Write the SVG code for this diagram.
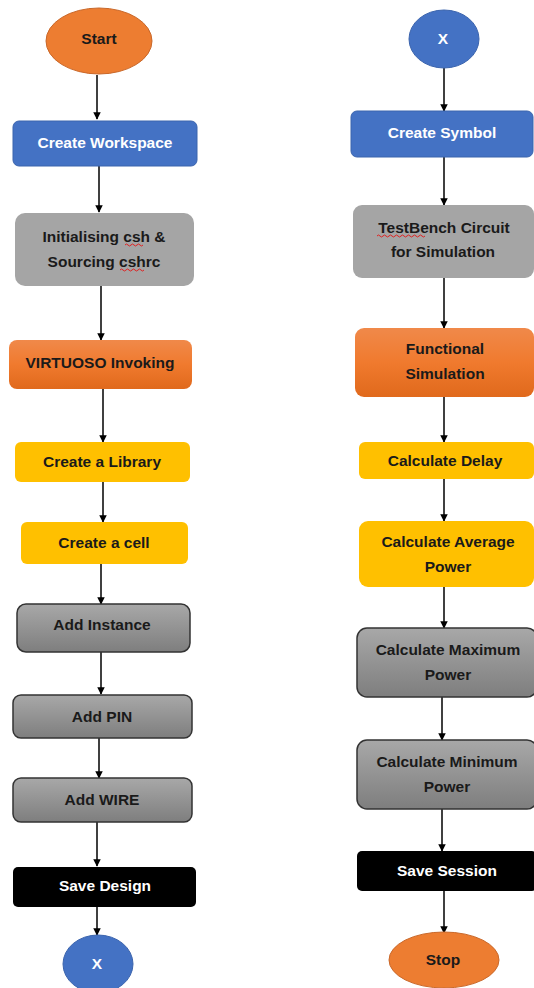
<svg xmlns="http://www.w3.org/2000/svg" width="534" height="988" viewBox="0 0 534 988">
<defs>
<linearGradient id="gOrange" x1="0" y1="0" x2="0" y2="1"><stop offset="0" stop-color="#F0894A"/><stop offset="0.5" stop-color="#F07A2E"/><stop offset="1" stop-color="#E0691C"/></linearGradient>
<linearGradient id="gGray" x1="0" y1="0" x2="0" y2="1"><stop offset="0" stop-color="#A8A8A8"/><stop offset="1" stop-color="#7E7E7E"/></linearGradient>
<marker id="arr" viewBox="0 0 10 10" refX="9" refY="5" markerWidth="5" markerHeight="5" orient="auto"><path d="M0,0 L10,5 L0,10 z" fill="#000"/></marker>
</defs>
<style>
text{font-family:"Liberation Sans",Arial,sans-serif;font-weight:bold;font-size:15.5px;text-anchor:middle;dominant-baseline:central}
.dk{fill:#1a1a1a}.wt{fill:#fff}
.blue{fill:#4472C4;stroke:#3B64AD;stroke-width:1}
.orangeE{fill:#ED7D31;stroke:#C9682A;stroke-width:1}
.grayL{fill:#A5A5A5}
.orangeG{fill:url(#gOrange)}
.yellow{fill:#FFC000}
.grayG{fill:url(#gGray);stroke:#333;stroke-width:1.5}
.black{fill:#000}
.edge{stroke:#000;stroke-width:1.5;fill:none;marker-end:url(#arr)}
.sq{stroke:#E02020;stroke-width:1;fill:none}
</style>
<rect width="534" height="988" fill="#fff"/>
<g id="connectors">
<path class="edge" d="M97,75 L97,119"/>
<path class="edge" d="M99,166 L99,212"/>
<path class="edge" d="M101,286 L101,340"/>
<path class="edge" d="M103,389 L103,442"/>
<path class="edge" d="M103,482 L103,522"/>
<path class="edge" d="M101,564 L101,604"/>
<path class="edge" d="M101,652 L101,694"/>
<path class="edge" d="M99,738 L99,778"/>
<path class="edge" d="M97,822 L97,866"/>
<path class="edge" d="M97,907 L97,935"/>
<path class="edge" d="M444,68 L444,111"/>
<path class="edge" d="M444,157 L444,205"/>
<path class="edge" d="M444,278 L444,328"/>
<path class="edge" d="M444,397 L444,442"/>
<path class="edge" d="M444,479 L444,521"/>
<path class="edge" d="M444,587 L444,628"/>
<path class="edge" d="M442,697 L442,740"/>
<path class="edge" d="M442,809 L442,851"/>
<path class="edge" d="M444,891 L444,933"/>
</g>
<g id="start"><ellipse class="orangeE" cx="99" cy="41" rx="53" ry="33"/><text class="dk" x="99" y="38">Start</text></g>
<g id="create-workspace"><rect class="blue" x="13" y="121" width="184" height="45" rx="6"/><text class="wt" x="105" y="142">Create Workspace</text></g>
<g id="initialising"><rect class="grayL" x="15" y="213" width="179" height="73" rx="10"/><text class="dk" x="104" y="236">Initialising csh &amp;</text><text class="dk" x="104" y="261">Sourcing cshrc</text>
<path class="sq" d="M125,245 q1.5,-2 3,0 t3,0 t3,0 t3,0 t3,0 t3,0"/><path class="sq" d="M120,270 q1.5,-2 3,0 t3,0 t3,0 t3,0 t3,0 t3,0 t3,0 t3,0"/></g>
<g id="virtuoso"><rect class="orangeG" x="9" y="340" width="183" height="49" rx="8"/><text class="dk" x="100" y="362">VIRTUOSO Invoking</text></g>
<g id="create-library"><rect class="yellow" x="15" y="442" width="175" height="40" rx="6"/><text class="dk" x="102" y="461">Create a Library</text></g>
<g id="create-cell"><rect class="yellow" x="21" y="522" width="167" height="42" rx="6"/><text class="dk" x="104" y="542">Create a cell</text></g>
<g id="add-instance"><rect class="grayG" x="17" y="604" width="173" height="48" rx="9"/><text class="dk" x="102" y="624">Add Instance</text></g>
<g id="add-pin"><rect class="grayG" x="13" y="695" width="179" height="43" rx="8"/><text class="dk" x="102" y="716">Add PIN</text></g>
<g id="add-wire"><rect class="grayG" x="13" y="778" width="179" height="44" rx="8"/><text class="dk" x="102" y="799">Add WIRE</text></g>
<g id="save-design"><rect class="black" x="13" y="867" width="183" height="40" rx="5"/><text class="wt" x="105" y="885">Save Design</text></g>
<g id="x-bottom"><ellipse class="blue" cx="98" cy="964" rx="35" ry="29"/><text class="wt" x="97" y="963">X</text></g>
<g id="x-top"><ellipse class="blue" cx="444" cy="39" rx="35" ry="29"/><text class="wt" x="443" y="38">X</text></g>
<g id="create-symbol"><rect class="blue" x="351" y="111" width="182" height="46" rx="6"/><text class="wt" x="442" y="132">Create Symbol</text></g>
<g id="testbench"><rect class="grayL" x="353" y="205" width="181" height="73" rx="9"/><text class="dk" x="444" y="227">TestBench Circuit</text><text class="dk" x="443" y="251">for Simulation</text>
<path class="sq" d="M377,236 q1.5,-2 3,0 t3,0 t3,0 t3,0 t3,0 t3,0 t3,0 t3,0 t3,0 t3,0 t3,0 t3,0 t3,0 t3,0 t3,0 t3,0"/></g>
<g id="functional-sim"><rect class="orangeG" x="355" y="328" width="179" height="69" rx="9"/><text class="dk" x="445" y="348">Functional</text><text class="dk" x="445" y="373">Simulation</text></g>
<g id="calc-delay"><rect class="yellow" x="359" y="442" width="175" height="37" rx="6"/><text class="dk" x="445" y="460">Calculate Delay</text></g>
<g id="calc-avg"><rect class="yellow" x="359" y="521" width="175" height="66" rx="9"/><text class="dk" x="448" y="541">Calculate Average</text><text class="dk" x="448" y="566">Power</text></g>
<g id="calc-max"><rect class="grayG" x="357" y="628" width="180" height="69" rx="10"/><text class="dk" x="448" y="649">Calculate Maximum</text><text class="dk" x="448" y="674">Power</text></g>
<g id="calc-min"><rect class="grayG" x="357" y="740" width="180" height="69" rx="10"/><text class="dk" x="447" y="761">Calculate Minimum</text><text class="dk" x="447" y="786">Power</text></g>
<g id="save-session"><rect class="black" x="357" y="851" width="180" height="40" rx="5"/><text class="wt" x="447" y="870">Save Session</text></g>
<g id="stop"><ellipse class="orangeE" cx="444" cy="960" rx="55" ry="28"/><text class="dk" x="443" y="959">Stop</text></g>
</svg>
